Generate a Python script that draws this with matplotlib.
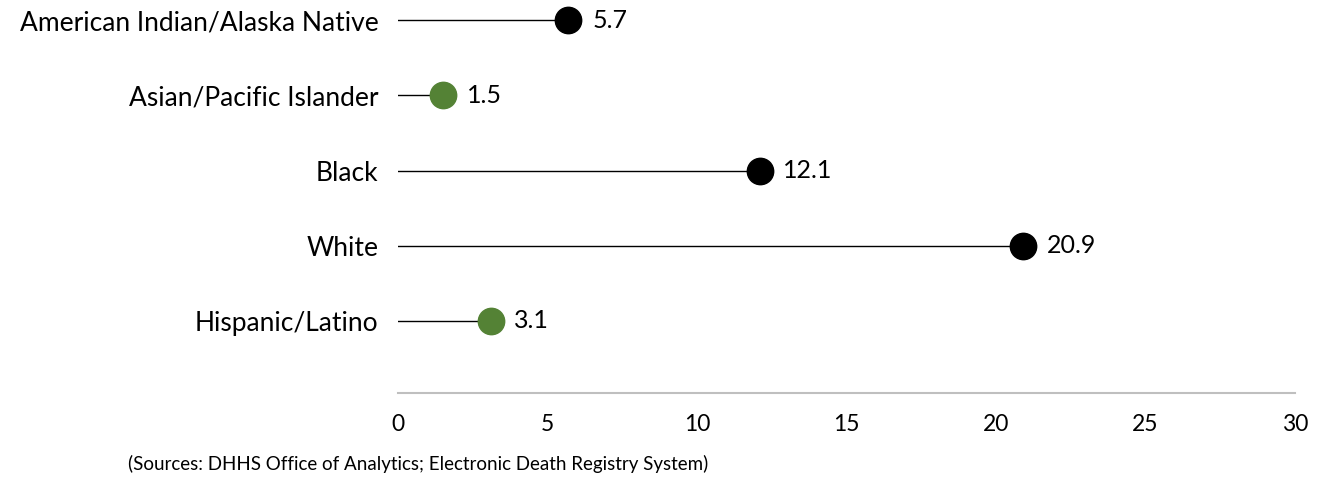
import matplotlib.pyplot as plt

groups = ['Hispanic/Latino', 'White', 'Black', 'Asian/Pacific Islander',
          'American Indian/Alaska Native']
rates = [3.1, 20.9, 12.1, 1.5, 5.7]
dot_colors = ['#548235', 'black', 'black', '#548235', 'black']
xticks = [0, 5, 10, 15, 20, 25, 30]

plt.rcParams['font.family'] = ['Lato', 'DejaVu Sans']

fig = plt.figure(figsize=(13.18, 4.84), dpi=100)
ax = fig.add_axes([0.302, 0.188, 0.6806, 0.812])

for i, (v, c) in enumerate(zip(rates, dot_colors)):
    ax.plot([0, v], [i, i], color='black', lw=1, zorder=2)
    ax.plot(v, i, 'o', ms=19, color=c, zorder=3)
    ax.annotate(f'{v}', (v, i), xytext=(17, 0), textcoords='offset points',
                va='center', ha='left', fontsize=18)

ax.set_xlim(0, 30)
ax.set_ylim(-0.957, 4.266)
ax.set_xticks(xticks)
ax.set_yticks(range(len(groups)))
ax.set_yticklabels(groups)
ax.tick_params(axis='x', length=0, pad=15, labelsize=16.5)
ax.tick_params(axis='y', length=0, pad=14, labelsize=19)

for s in ['top', 'right', 'left']:
    ax.spines[s].set_visible(False)
ax.spines['bottom'].set_color('#BFBFBF')
ax.spines['bottom'].set_linewidth(1.5)

fig.text(128 / 1318, 1 - 464 / 484,
         '(Sources: DHHS Office of Analytics; Electronic Death Registry System)',
         fontsize=13.5, va='center', ha='left')

fig.savefig('out.png', dpi=100)
